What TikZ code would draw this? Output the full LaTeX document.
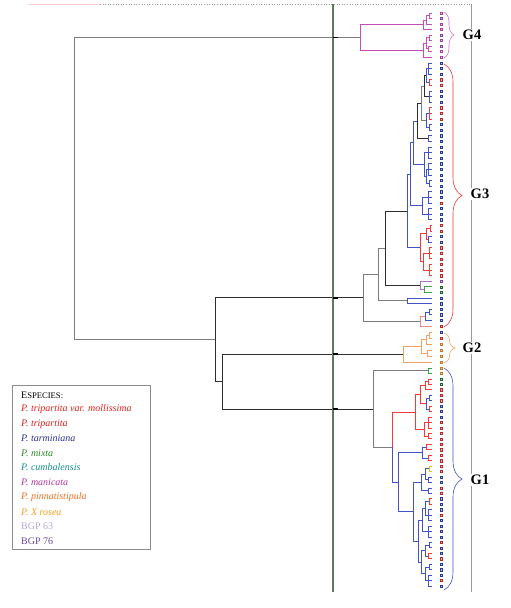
\documentclass[tikz,border=0pt]{standalone}
\usepackage{fontspec}
\setmainfont{Liberation Serif}
\usetikzlibrary{calc,decorations.pathreplacing}
\definecolor{lineB}{HTML}{4353C4}
\definecolor{lineR}{HTML}{F23A3A}
\definecolor{lineM}{HTML}{C54DB8}
\definecolor{lineO}{HTML}{F4A263}
\definecolor{lineG}{HTML}{3FA346}
\definecolor{lineK}{HTML}{2E2E2E}
\definecolor{lineP}{HTML}{9A7AC8}
\definecolor{lineY}{HTML}{F2C200}
\definecolor{lineGy}{HTML}{7D7D7D}
\definecolor{linePk}{HTML}{F08A8A}
\definecolor{axisG}{HTML}{5E7A5E}
\definecolor{sqB}{HTML}{2A3A9A}
\definecolor{sqR}{HTML}{B82A2A}
\definecolor{sqM}{HTML}{B040A0}
\definecolor{sqP}{HTML}{7A4AA0}
\definecolor{sqO}{HTML}{C07A30}
\definecolor{sqG}{HTML}{1A6A2A}
\definecolor{cRed}{HTML}{E8201C}
\definecolor{cRed2}{HTML}{D42020}
\definecolor{cBlue}{HTML}{2E3192}
\definecolor{cGreen}{HTML}{2A8A2A}
\definecolor{cTeal}{HTML}{168C8C}
\definecolor{cMag}{HTML}{B03A9A}
\definecolor{cOrange}{HTML}{F07020}
\definecolor{cYellow}{HTML}{F0A020}
\definecolor{cLav}{HTML}{B8A8D8}
\definecolor{cPurple}{HTML}{6A4A9A}
\tikzset{
 dl/.style={line width=0.75pt},
 lnB/.style={dl,draw=lineB}, lnR/.style={dl,draw=lineR}, lnM/.style={dl,draw=lineM},
 lnO/.style={dl,draw=lineO}, lnG/.style={dl,draw=lineG}, lnK/.style={dl,draw=lineK},
 lnP/.style={dl,draw=lineP}, lnY/.style={dl,draw=lineY}, lnGy/.style={dl,draw=lineGy},
 lnPk/.style={dl,draw=linePk},
 sqbox/.style={rectangle, inner sep=0pt, minimum size=2.2pt, line width=0.45pt},
 glab/.style={font=\fontsize{14.5}{15}\selectfont\bfseries, fill=white, inner sep=1pt},
 legt/.style={anchor=west, inner sep=0pt, font=\fontsize{10}{12}\selectfont},
 gbrace/.style={decorate, decoration={brace, amplitude=#1}, line width=0.6pt}
}
% bracket of consecutive leaves
\newcommand\lbr[5]{%
 \path let \p1=($(L#3)!.5!(L#4)$) in coordinate (#1) at (#2pt,\y1);
 \draw[#5] (L#3 -| #1) -- (L#4 -| #1);
 \foreach \k in {#3,...,#4} \draw[#5] (L\k -| #1) -- (L\k);
}
% join of two clades
\newcommand\jn[5]{%
 \path let \p1=($(#3)!.5!(#4)$) in coordinate (#1) at (#2pt,\y1);
 \draw[#5] (#3) -- (#3 -| #1) -- (#4 -| #1) -- (#4);
}
\newcommand\jns[6]{%
 \path let \p1=($(#3)!.5!(#4)$) in coordinate (#1) at (#2pt,\y1);
 \draw[#5] (#3) -- (#3 -| #1) -- (#1);
 \draw[#6] (#1) -- (#4 -| #1) -- (#4);
}
\begin{document}
\begin{tikzpicture}[x=1pt,y=-1pt]
\useasboundingbox (0,0) rectangle (511,608);
\fill[white] (0,0) rectangle (511,608);
% leaves
\foreach \i in {0,...,8} \coordinate (L\i) at (432,{13+5.5*\i});
\foreach \i in {9,...,56} \coordinate (L\i) at (432,{63+5.596*(\i-9)});
\foreach \i in {57,...,62} \coordinate (L\i) at (432,{332+6*(\i-57)});
\foreach \i in {63,...,103} \coordinate (L\i) at (432,{368+5.45*(\i-63)});
% ---- G4
\lbr{ma}{429}{0}{1}{lnM}
\jn{mb}{426}{ma}{L2}{lnM}
\jn{mc}{423}{mb}{L3}{lnM}
\lbr{md}{429}{4}{5}{lnM}
\lbr{me}{428}{6}{7}{lnM}
\jn{mf}{426}{md}{me}{lnM}
\jn{mg}{423}{mf}{L8}{lnM}
\jn{mh}{360}{mc}{mg}{lnM}
% ---- G3
\lbr{na}{428}{9}{11}{lnB}
\lbr{nb}{429}{12}{13}{lnR}
\jn{nc}{426}{na}{nb}{lnB}
\lbr{nd}{429}{14}{16}{lnB}
\jn{ne}{424}{nc}{nd}{lnK}
\lbr{nf}{429}{17}{19}{lnR}
\lbr{ng}{429}{20}{21}{lnB}
\jn{nh}{426}{nf}{ng}{lnB}
\jn{ni}{421}{ne}{nh}{lnGy}
\lbr{nj}{428}{22}{23}{lnB}
\jn{nk}{417}{ni}{nj}{lnK}
\lbr{nl}{428}{24}{26}{lnB}
\lbr{nm}{428}{27}{29}{lnB}
\lbr{nn}{429}{30}{31}{lnB}
\jn{no}{426}{nm}{nn}{lnB}
\jn{np}{424}{nl}{no}{lnB}
\jn{nq}{413}{nk}{np}{lnB}
\lbr{nr}{428}{32}{34}{lnB}
\lbr{ns}{428}{35}{37}{lnB}
\jn{nt}{422}{nr}{ns}{lnB}
\jn{nu}{410}{nq}{nt}{lnB}
\lbr{nv}{430}{38}{39}{lnR}
\lbr{nw}{428}{40}{41}{lnB}
\jn{nx}{426}{nv}{nw}{lnR}
\lbr{ny}{429}{42}{44}{lnR}
\lbr{nz}{429}{45}{47}{lnR}
\jn{naa}{423}{ny}{nz}{lnR}
\jn{nab}{420}{nx}{naa}{lnR}
\jn{nac}{407}{nu}{nab}{lnB}
\lbr{nad}{424}{49}{50}{lnG}
\jn{nae}{420}{L48}{nad}{lnP}
\jn{naf}{385}{nac}{nae}{lnK}
\lbr{nag}{407}{51}{52}{lnB}
\jn{nah}{378}{naf}{nag}{lnGy}
\lbr{nai}{429}{53}{54}{lnB}
\jn{naj}{425}{nai}{L55}{lnB}
\jn{nak}{420}{naj}{L56}{lnPk}
\jn{nal}{363}{nah}{nak}{lnGy}
% ---- G2
\lbr{oa}{429}{57}{58}{lnO}
\jn{ob}{426}{oa}{L59}{lnO}
\lbr{od}{427}{60}{61}{lnO}
\jn{oc}{421}{ob}{od}{lnO}
\jn{oe}{403}{oc}{L62}{lnO}
% ---- G1
\lbr{pg}{428}{63}{64}{lnG}
\lbr{ra}{428}{65}{66}{lnR}
\jn{rb}{425}{ra}{L67}{lnR}
\lbr{rc}{429}{68}{69}{lnB}
\lbr{rd}{429}{70}{71}{lnR}
\jn{re}{426}{rc}{rd}{lnB}
\jn{rf}{420}{rb}{re}{lnR}
\lbr{rg}{428}{72}{74}{lnR}
\lbr{rh}{428}{75}{76}{lnR}
\jn{ri}{424}{rg}{rh}{lnR}
\jn{rj}{415}{rf}{ri}{lnR}
\lbr{qa}{426}{77}{78}{lnR}
\lbr{qb}{428}{79}{80}{lnR}
\jn{qc}{422}{qa}{qb}{lnB}
\lbr{sa}{429}{81}{82}{lnY}
\lbr{sb}{428}{83}{84}{lnB}
\jn{sc}{425}{sa}{sb}{lnB}
\lbr{sd}{428}{85}{86}{lnB}
\jn{se}{421}{sc}{sd}{lnB}
\lbr{ta}{429}{87}{88}{lnR}
\lbr{tb}{428}{89}{91}{lnB}
\jn{tc}{425}{ta}{tb}{lnB}
\lbr{td}{428}{92}{94}{lnB}
\jn{te}{422}{tc}{td}{lnB}
\lbr{ua}{429}{95}{96}{lnB}
\lbr{ub}{428}{97}{98}{lnR}
\jn{uc}{425}{ua}{ub}{lnB}
\lbr{ud}{429}{99}{100}{lnB}
\lbr{ue}{428}{101}{103}{lnB}
\jn{uf}{425}{ud}{ue}{lnB}
\jn{ug}{421}{uc}{uf}{lnB}
\jn{va}{418}{te}{ug}{lnB}
\jn{vb}{413}{se}{va}{lnB}
\jn{vc}{398}{qc}{vb}{lnB}
\jns{vd}{392}{rj}{vc}{lnR}{lnB}
\jn{G1r}{373}{pg}{vd}{lnGy}
% ---- upper levels
\jn{Cn}{222}{oe}{G1r}{lnK}
\jn{Bn}{215}{nal}{Cn}{lnK}
\jn{Rn}{74}{mh}{Bn}{lnGy}
% ---- frame lines
\coordinate (ax) at (333,0);
\coordinate (axT) at (333,4);
\coordinate (axB) at (333,592);
\coordinate (rgT) at (471,4);
\coordinate (rgB) at (471,592);
\coordinate (tpL) at (28,4);
\coordinate (tpM) at (100,4);
\draw[lineGy!80, dotted, line width=0.6pt] (tpM) -- (rgT);
\draw[pink!70, line width=0.6pt] (tpL) -- (tpM);
\draw[gray!80, line width=0.6pt] (rgT) -- (rgB);
\draw[axisG, line width=1.3pt] (axT) -- (axB);
\foreach \g in {mh,nal,oe,G1r} \draw[black, line width=1.8pt] (\g -| ax) -- ++(5,0);
% ---- leaf squares
\foreach \i/\c in {0/sqM,1/sqP,2/sqM,3/sqM,4/sqP,5/sqM,6/sqP,7/sqM,8/sqM,
 9/sqB,10/sqB,11/sqB,12/sqR,13/sqR,14/sqB,15/sqB,16/sqB,17/sqR,18/sqR,19/sqR,20/sqB,
 21/sqB,22/sqB,23/sqB,24/sqB,25/sqB,26/sqB,27/sqB,28/sqB,29/sqB,30/sqB,31/sqB,32/sqB,
 33/sqB,34/sqR,35/sqB,36/sqB,37/sqB,38/sqR,39/sqR,40/sqB,41/sqB,42/sqR,43/sqR,44/sqR,
 45/sqR,46/sqR,47/sqR,48/sqP,49/sqG,50/sqG,51/sqB,52/sqB,53/sqB,54/sqB,55/sqB,56/sqR,
 57/sqB,58/sqR,59/sqO,60/sqO,61/sqO,62/sqO,63/sqO,64/sqO,65/sqG,66/sqG,67/sqR,68/sqR,
 69/sqR,70/sqB,71/sqB,72/sqB,73/sqR,74/sqR,75/sqR,76/sqR,77/sqR,78/sqR,79/sqR,80/sqR,
 81/sqR,82/sqR,83/sqB,84/sqB,85/sqR,86/sqR,87/sqB,88/sqB,89/sqB,90/sqR,91/sqB,92/sqB,
 93/sqB,94/sqB,95/sqR,96/sqB,97/sqB,98/sqR,99/sqB,100/sqB,101/sqB,102/sqR,103/sqB}
 \node[sqbox, draw=\c, fill=\c!35] (s\i) at ($(L\i)+(9,0)$) {};
% ---- braces
\coordinate (b4t) at (444,12); \coordinate (b4b) at (444,58);
\coordinate (b3t) at (444,64); \coordinate (b3b) at (444,327);
\coordinate (b2t) at (444,333); \coordinate (b2b) at (444,363);
\coordinate (b1t) at (444,368); \coordinate (b1b) at (444,590);
\draw[gbrace=10pt, draw=lineM!80] (b4t) -- (b4b);
\draw[gbrace=18pt, draw=lineR] (b3t) -- (b3b);
\draw[gbrace=11pt, draw=lineO] (b2t) -- (b2b);
\draw[gbrace=18pt, draw=lineB] (b1t) -- (b1b);
\node[glab] (g4) at (472,35) {G4};
\node[glab] (g3) at (480,194) {G3};
\node[glab] (g2) at (472,348) {G2};
\node[glab] (g1) at (480,480) {G1};
% ---- legend
\node[draw=gray!90, line width=0.9pt, minimum width=138pt, minimum height=164pt, anchor=north west, inner sep=0pt] (legbox) at (12,385) {};
\node[legt] (e0) at (21,395) {E\fontsize{8.6}{10}\selectfont SPECIES:};
\node[legt, text=cRed] (e1) at (21,409.5) {\itshape P. tripartita var. mollissima};
\node[legt, text=cRed2] (e2) at (21,424) {\itshape P. tripartita};
\node[legt, text=cBlue] (e3) at (21,438.5) {\itshape P. tarminiana};
\node[legt, text=cGreen] (e4) at (21,453) {\itshape P. mixta};
\node[legt, text=cTeal] (e5) at (21,467.5) {\itshape P. cumbalensis};
\node[legt, text=cMag] (e6) at (21,482) {\itshape P. manicata};
\node[legt, text=cOrange] (e7) at (21,497) {\itshape P. pinnatistipula};
\node[legt, text=cYellow] (e8) at (21,512) {\itshape P. X rosea};
\node[legt, text=cLav] (e9) at (21,526.5) {BGP 63};
\node[legt, text=cPurple] (e10) at (21,541) {BGP 76};
\end{tikzpicture}
\end{document}
